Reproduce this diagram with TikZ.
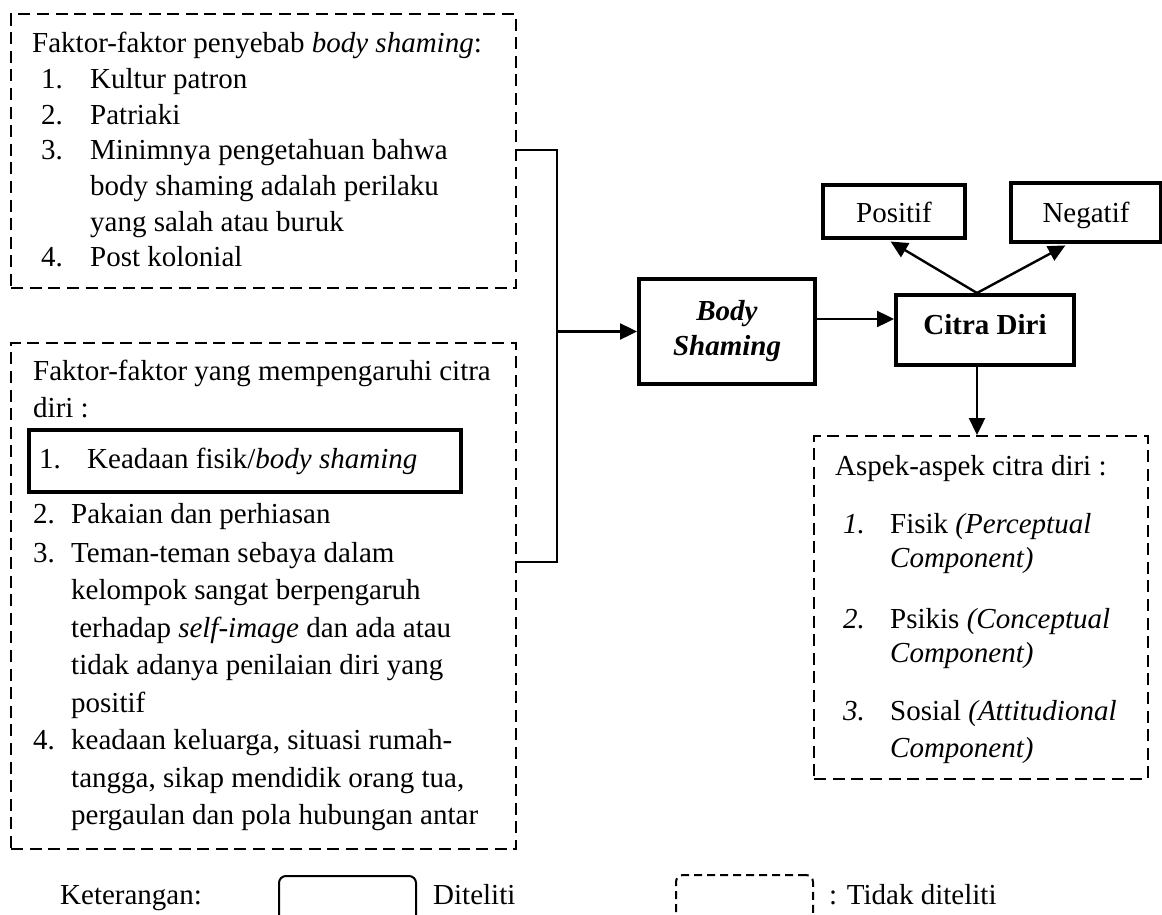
\documentclass[tikz,border=0pt]{standalone}
\usepackage{fontspec}
\setmainfont{Liberation Serif}
\usetikzlibrary{arrows.meta}
\begin{document}
\begin{tikzpicture}[x=1pt,y=-1pt,
  every node/.style={font=\fontsize{29}{35}\selectfont},
  dbox/.style={draw, line width=2.3pt, dash pattern=on 12pt off 6.6pt, inner sep=0, anchor=north west},
  sbox/.style={draw, line width=4pt, inner sep=0, anchor=north west, align=center},
  conn/.style={line width=2.4pt},
  arr/.style={conn, -{Triangle[length=17pt,width=16pt]}},
  txt/.style={anchor=base west, inner sep=0},
  legs/.style={draw, line width=2pt, rounded corners=7pt, inner sep=0, anchor=north west, minimum width=137pt, minimum height=46pt},
  legd/.style={legs, dash pattern=on 8pt off 5pt}
]
\useasboundingbox (0,0) rectangle (1162,915);

% ---- top-left box
\node[dbox, minimum width=505pt, minimum height=274pt] (top) at (10,13) {};
\node[txt] (t0) at (32,53) {Faktor-faktor penyebab \textit{body shaming}:};
\node[txt] (t1n) at (41,88.6) {1.};
\node[txt] (t1) at (90,88.6) {Kultur patron};
\node[txt] (t2n) at (41,124.2) {2.};
\node[txt] (t2) at (90,124.2) {Patriaki};
\node[txt] (t3n) at (41,159.8) {3.};
\node[txt] (t3a) at (90,159.8) {Minimnya pengetahuan bahwa};
\node[txt] (t3b) at (90,195.4) {body shaming adalah perilaku};
\node[txt] (t3c) at (90,231) {yang salah atau buruk};
\node[txt] (t4n) at (41,266.6) {4.};
\node[txt] (t4) at (90,266.6) {Post kolonial};

% ---- bottom-left box
\node[dbox, minimum width=505pt, minimum height=506pt] (bot) at (10,342) {};
\node[txt] (b0) at (33,380) {Faktor-faktor yang mempengaruhi citra};
\node[txt] (b0b) at (33,417) {diri :};
\node[sbox, minimum width=432pt, minimum height=62pt] (kf) at (27,428) {};
\node[txt] (b1n) at (39,468) {1.};
\node[txt] (b1) at (87,468) {Keadaan fisik/\textit{body shaming}};
\node[txt] (b2n) at (33,523) {2.};
\node[txt] (b2) at (71,523) {Pakaian dan perhiasan};
\node[txt] (b3n) at (33,562) {3.};
\node[txt] (b3a) at (71,562) {Teman-teman sebaya dalam};
\node[txt] (b3b) at (71,599.5) {kelompok sangat berpengaruh};
\node[txt] (b3c) at (71,637) {terhadap \textit{self-image} dan ada atau};
\node[txt] (b3d) at (71,674.5) {tidak adanya penilaian diri yang};
\node[txt] (b3e) at (71,712) {positif};
\node[txt] (b4n) at (33,749.5) {4.};
\node[txt] (b4a) at (71,749.5) {keadaan keluarga, situasi rumah-};
\node[txt] (b4b) at (71,787) {tangga, sikap mendidik orang tua,};
\node[txt] (b4c) at (71,824.5) {pergaulan dan pola hubungan antar};

% ---- main flow
\node[sbox, minimum width=176pt, minimum height=105pt] (bs) at (637,277) {\textbf{\textit{Body}}\\\textbf{\textit{Shaming}}};
\node[sbox, minimum width=178pt, minimum height=70pt, text height=19pt, text depth=11pt] (cd) at (894,293) {\textbf{Citra Diri}};
\node[sbox, minimum width=142pt, minimum height=53pt, text height=22pt, text depth=0pt] (pos) at (821,183) {Positif};
\node[sbox, minimum width=150pt, minimum height=59pt, text height=20pt, text depth=0pt] (neg) at (1009,181) {Negatif};

% ---- aspects box
\node[dbox, minimum width=334pt, minimum height=343pt] (asp) at (813,435) {};
\node[txt] (a0) at (835,475) {Aspek-aspek citra diri :};
\node[txt] (a1n) at (843,533) {\textit{1.}};
\node[txt] (a1a) at (890,533) {Fisik \textit{(Perceptual}};
\node[txt] (a1b) at (890,567) {\textit{Component)}};
\node[txt] (a2n) at (843,628) {\textit{2.}};
\node[txt] (a2a) at (890,628) {Psikis \textit{(Conceptual}};
\node[txt] (a2b) at (890,662) {\textit{Component)}};
\node[txt] (a3n) at (843,720) {\textit{3.}};
\node[txt] (a3a) at (890,720) {Sosial \textit{(Attitudional}};
\node[txt] (a3b) at (890,757) {\textit{Component)}};

% ---- connectors
\coordinate (jt) at (557,150);
\coordinate (jb) at (557,562);
\coordinate (ay) at (0,319);
\coordinate (apex) at (977,0);
\coordinate (tp) at (888,0);
\coordinate (tn) at (1068,0);
\draw[conn] (top.east |- jt) -- (jt) -- (jb) -- (bot.east |- jb);
\draw[arr] (jt |- bs.west) -- (bs.west);
\draw[arr] (bs.east |- ay) -- (cd.west |- ay);
\draw[arr, shorten >=3pt] (cd.north -| apex) -- (pos.south -| tp);
\draw[arr, shorten >=3pt] (cd.north -| apex) -- (neg.south -| tn);
\draw[arr] (cd.south -| apex) -- (asp.north -| apex);

% ---- legend
\node[txt] (ket) at (60,904) {Keterangan:};
\node[legs] (ls) at (278,875) {};
\node[txt] (dt) at (433,904) {Diteliti};
\node[legd] (ld) at (675,874) {};
\node[txt] (tdt) at (829,904) {: Tidak diteliti};
\end{tikzpicture}
\end{document}
